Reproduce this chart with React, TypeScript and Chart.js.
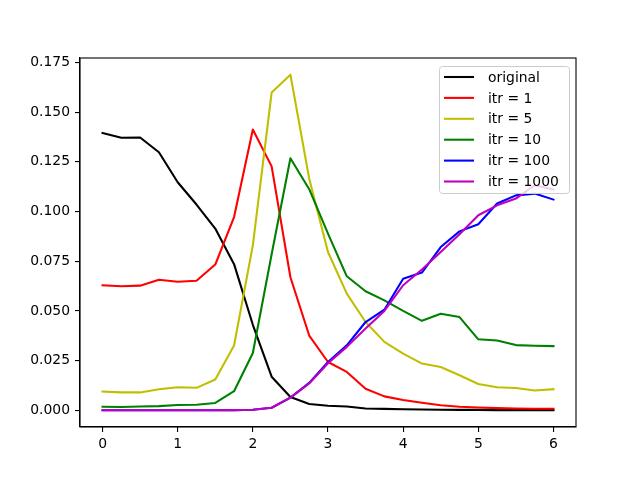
import React, { useEffect, useRef } from 'react';
import { Chart, registerables } from 'chart.js';

Chart.register(...registerables);

const xValues = [0, 0.25, 0.5, 0.75, 1, 1.25, 1.5, 1.75, 2, 2.25, 2.5, 2.75, 3, 3.25, 3.5, 3.75, 4, 4.25, 4.5, 4.75, 5, 5.25, 5.5, 5.75, 6];

const original = [0.1395, 0.1371, 0.1372, 0.1298, 0.1147, 0.1035, 0.0914, 0.0735, 0.043, 0.0169, 0.0067, 0.0032, 0.0023, 0.0019, 0.0009, 0.0007, 0.0005, 0.0004, 0.0003, 0.0002, 0.0002, 0.0001, 0.0001, 0.0001, 0.0001];
const itr1 = [0.0629, 0.0624, 0.0627, 0.0657, 0.0647, 0.0652, 0.0733, 0.0972, 0.1412, 0.1227, 0.0669, 0.0376, 0.0243, 0.0193, 0.0108, 0.007, 0.0052, 0.0038, 0.0025, 0.0018, 0.0014, 0.0011, 0.0009, 0.0008, 0.0008];
const itr5 = [0.0094, 0.009, 0.009, 0.0106, 0.0116, 0.0113, 0.0155, 0.0326, 0.083, 0.1598, 0.1688, 0.1165, 0.0796, 0.0587, 0.0444, 0.0344, 0.0285, 0.0235, 0.0218, 0.0176, 0.0132, 0.0116, 0.0112, 0.01, 0.0106];
const itr10 = [0.0018, 0.0017, 0.0019, 0.0021, 0.0027, 0.0028, 0.0037, 0.0096, 0.0288, 0.0785, 0.1268, 0.1112, 0.0889, 0.0674, 0.0599, 0.0553, 0.05, 0.045, 0.0486, 0.0469, 0.0357, 0.0351, 0.0328, 0.0325, 0.0323];
const itr100 = [0, 0, 0, 0, 0, 0, 0, 0.0001, 0.0003, 0.0013, 0.0064, 0.0138, 0.0243, 0.0327, 0.0444, 0.0506, 0.0662, 0.0693, 0.0821, 0.09, 0.0936, 0.104, 0.1081, 0.109, 0.106];
const itr1000 = [0, 0, 0, 0, 0, 0, 0, 0.0001, 0.0003, 0.0013, 0.0064, 0.0135, 0.0237, 0.0319, 0.0411, 0.05, 0.0629, 0.0708, 0.0796, 0.0885, 0.0981, 0.1031, 0.1065, 0.1132, 0.111];

const seriesLabels = ['original', 'itr = 1', 'itr = 5', 'itr = 10', 'itr = 100', 'itr = 1000'];
const seriesColors = ['#000000', '#ff0000', '#bfbf00', '#008000', '#0000ff', '#bf00bf'];
const seriesValues = [original, itr1, itr5, itr10, itr100, itr1000];

const xTicks = [0, 1, 2, 3, 4, 5, 6];
const yTicks = [0, 0.025, 0.05, 0.075, 0.1, 0.125, 0.15, 0.175];

const FONT = "'DejaVu Sans', sans-serif";
const FONT_SIZE = 13.9;

// matplotlib-style frame around the axes
const framePlugin = {
    id: 'frame',
    afterDatasetsDraw(chart: any) {
        const { ctx, chartArea } = chart;
        ctx.save();
        ctx.strokeStyle = '#000';
        ctx.lineWidth = 1.1;
        ctx.strokeRect(chartArea.left, chartArea.top, chartArea.right - chartArea.left, chartArea.bottom - chartArea.top);
        ctx.restore();
    },
};

// legend box in the upper right corner, drawn over the lines
const legendPlugin = {
    id: 'mplLegend',
    afterDraw(chart: any) {
        const { ctx, chartArea } = chart;
        const w = 130;
        const h = 127;
        const x0 = chartArea.right - 7 - w;
        const y0 = chartArea.top + 8;
        ctx.save();
        ctx.beginPath();
        ctx.roundRect(x0 + 0.5, y0 + 0.5, w, h, 3);
        ctx.fillStyle = 'rgba(255,255,255,0.8)';
        ctx.fill();
        ctx.strokeStyle = '#cccccc';
        ctx.lineWidth = 1;
        ctx.stroke();
        ctx.font = `${FONT_SIZE}px ${FONT}`;
        ctx.textBaseline = 'middle';
        ctx.textAlign = 'left';
        chart.data.datasets.forEach((ds: any, i: number) => {
            const y = y0 + 11 + i * 20.9;
            ctx.beginPath();
            ctx.moveTo(x0 + 5, y);
            ctx.lineTo(x0 + 35, y);
            ctx.strokeStyle = ds.borderColor;
            ctx.lineWidth = 2.08;
            ctx.stroke();
            ctx.fillStyle = '#000';
            ctx.fillText(ds.label, x0 + 49, y + 1);
        });
        ctx.restore();
    },
};

export default function App() {
    const chartRef = useRef<HTMLCanvasElement>(null);
    const chartInstance = useRef<Chart | null>(null);

    useEffect(() => {
        if (!chartRef.current) return;
        if (chartInstance.current) {
            chartInstance.current.destroy();
        }

        const datasets = seriesValues.map((vals, i) => ({
            label: seriesLabels[i],
            data: vals.map((v, j) => ({ x: xValues[j], y: v })),
            borderColor: seriesColors[i],
            backgroundColor: seriesColors[i],
            borderWidth: 2.08,
            pointRadius: 0,
            tension: 0,
            fill: false,
            borderJoinStyle: 'round',
            borderCapStyle: 'square',
            order: seriesValues.length - 1 - i,
        }));

        const tickFont = { family: FONT, size: FONT_SIZE };

        chartInstance.current = new Chart(chartRef.current, {
            type: 'line',
            data: { datasets },
            plugins: [framePlugin, legendPlugin],
            options: {
                responsive: false,
                animation: false,
                events: [],
                layout: { padding: { left: 0, top: 58, right: 64, bottom: 0 } },
                plugins: {
                    legend: { display: false },
                    tooltip: { enabled: false },
                },
                scales: {
                    x: {
                        type: 'linear',
                        min: -0.3,
                        max: 6.3,
                        afterBuildTicks: (scale: any) => {
                            scale.ticks = xTicks.map((v) => ({ value: v }));
                        },
                        afterFit: (scale: any) => {
                            scale.height = 53;
                        },
                        grid: { drawOnChartArea: false, drawTicks: true, tickLength: 5, color: '#000', lineWidth: 1.1 },
                        border: { display: true, color: '#000', width: 1.1 },
                        ticks: {
                            font: tickFont,
                            color: '#000',
                            padding: 4,
                            maxRotation: 0,
                            callback: (v: any) => String(v),
                        },
                    },
                    y: {
                        type: 'linear',
                        min: -0.0084,
                        max: 0.1772,
                        afterBuildTicks: (scale: any) => {
                            scale.ticks = yTicks.map((v) => ({ value: v }));
                        },
                        afterFit: (scale: any) => {
                            scale.width = 80;
                        },
                        grid: { drawOnChartArea: false, drawTicks: true, tickLength: 5, color: '#000', lineWidth: 1.1 },
                        border: { display: true, color: '#000', width: 1.1 },
                        ticks: {
                            font: tickFont,
                            color: '#000',
                            padding: 5,
                            callback: (v: any) => Number(v).toFixed(3),
                        },
                    },
                },
            } as any,
        });

        return () => {
            if (chartInstance.current) {
                chartInstance.current.destroy();
                chartInstance.current = null;
            }
        };
    }, []);

    return (
        <div style={{ position: 'absolute', left: 0, top: 0, width: 640, height: 480, background: '#fff' }}>
            <canvas ref={chartRef} width={640} height={480} style={{ display: 'block' }}></canvas>
        </div>
    );
}
